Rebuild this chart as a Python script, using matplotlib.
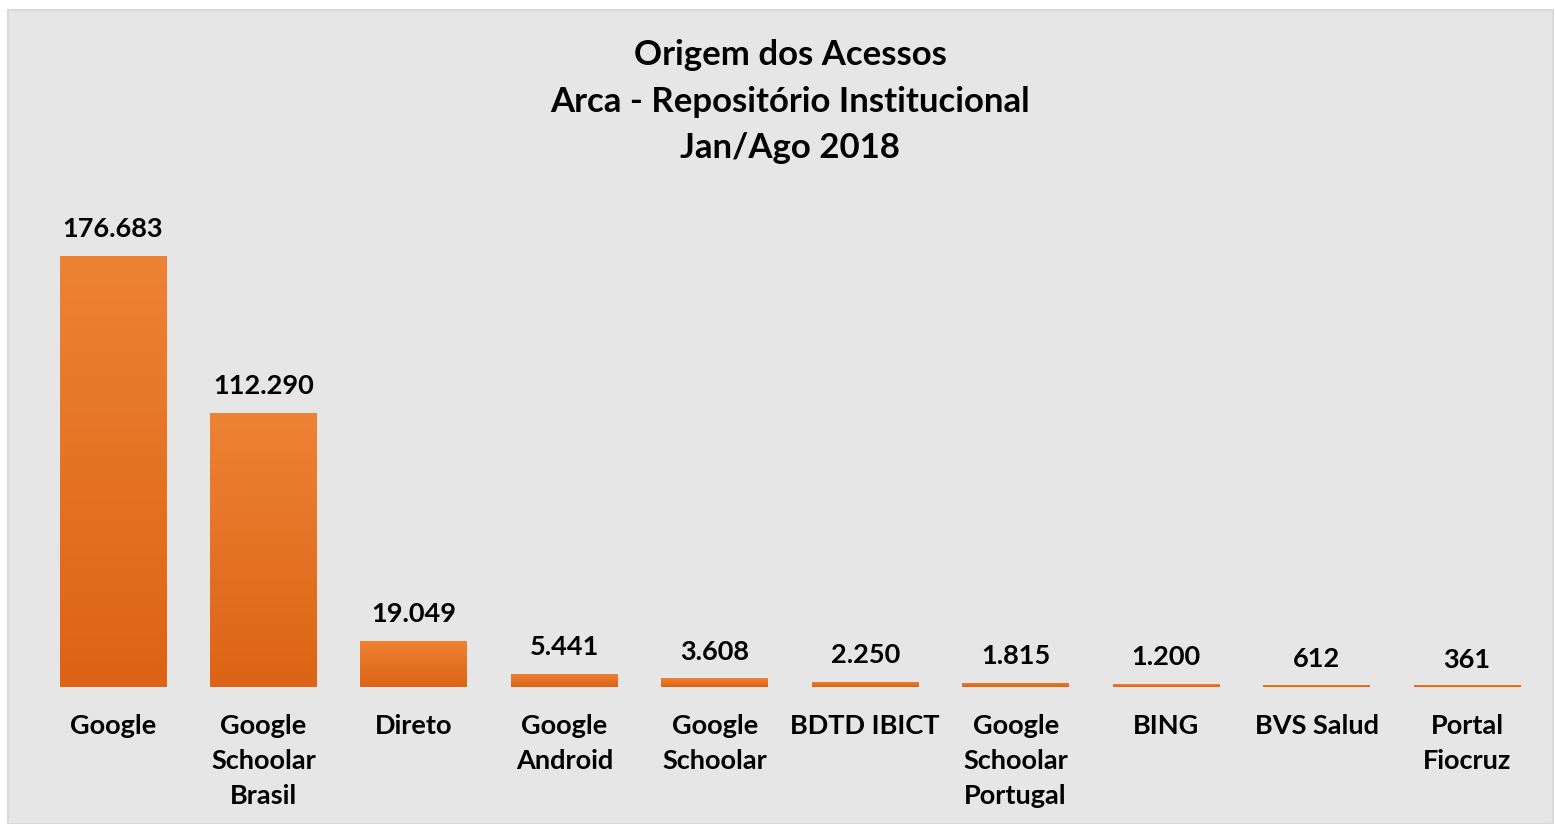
import matplotlib
matplotlib.use("Agg")
import matplotlib.pyplot as plt
import numpy as np
from matplotlib.patches import Rectangle
from matplotlib.colors import LinearSegmentedColormap

categories = ["Google", "Google\nSchoolar\nBrasil", "Direto", "Google\nAndroid", "Google\nSchoolar",
              "BDTD IBICT", "Google\nSchoolar\nPortugal", "BING", "BVS Salud", "Portal\nFiocruz"]
values = [176683, 112290, 19049, 5441, 3608, 2250, 1815, 1200, 612, 361]
value_labels = ["176.683", "112.290", "19.049", "5.441", "3.608", "2.250", "1.815", "1.200", "612", "361"]
title = "Origem dos Acessos\nArca - Repositório Institucional\nJan/Ago 2018"

plt.rcParams['font.family'] = ['Lato', 'DejaVu Sans']
W, H = 1555, 824
fig = plt.figure(figsize=(W/100, H/100), dpi=100, facecolor='white')

# gray panel
fig.patches.append(Rectangle((8/W, 0), (1553-8)/W, (824-10)/H, transform=fig.transFigure,
                             facecolor='#e6e6e6', edgecolor='#d9d9d9', linewidth=1.5, zorder=-5))

left = 37.8; right = 1542.2
base = 687; top = 687 - 431*200000/176683
ax = fig.add_axes([left/W, (H-base)/H, (right-left)/W, (base-top)/H], zorder=2)
ax.set_facecolor('none')
ax.patch.set_visible(False)

cmap = LinearSegmentedColormap.from_list('g', ['#dc6414', '#ee8235'])
grad = np.linspace(0, 1, 256).reshape(-1, 1)
x = np.arange(len(values))
bars = ax.bar(x, values, width=0.71, color='none', edgecolor='none')
for b, v, lab in zip(bars, values, value_labels):
    bx, bw = b.get_x(), b.get_width()
    h = max(v, 200000*2.5/488)
    im = ax.imshow(grad, extent=[bx, bx+bw, 0, h], origin='lower', cmap=cmap, aspect='auto', zorder=2)
    r = Rectangle((bx, 0), bw, h, transform=ax.transData)
    im.set_clip_path(r)
    ax.annotate(lab, (bx+bw/2, v), xytext=(0, 10.5), textcoords='offset points', ha='center', va='bottom',
                fontsize=19.5, fontweight='bold', color='#000000')
ax.set_xlim(-0.5, len(values)-0.5)
ax.set_ylim(0, 200000)

ax.set_xticks(x)
ax.set_xticklabels(categories, fontsize=19.5, fontweight='bold', linespacing=1.56)
ax.tick_params(axis='x', length=0, pad=19.5)
ax.set_yticks([])
for s in ax.spines.values():
    s.set_visible(False)

fig.text(790/W, 1 - 101.5/H, title, ha='center', va='center', fontsize=25, fontweight='bold',
         linespacing=1.55, color='#000000')

fig.savefig('out.png', dpi=100, facecolor='white')
